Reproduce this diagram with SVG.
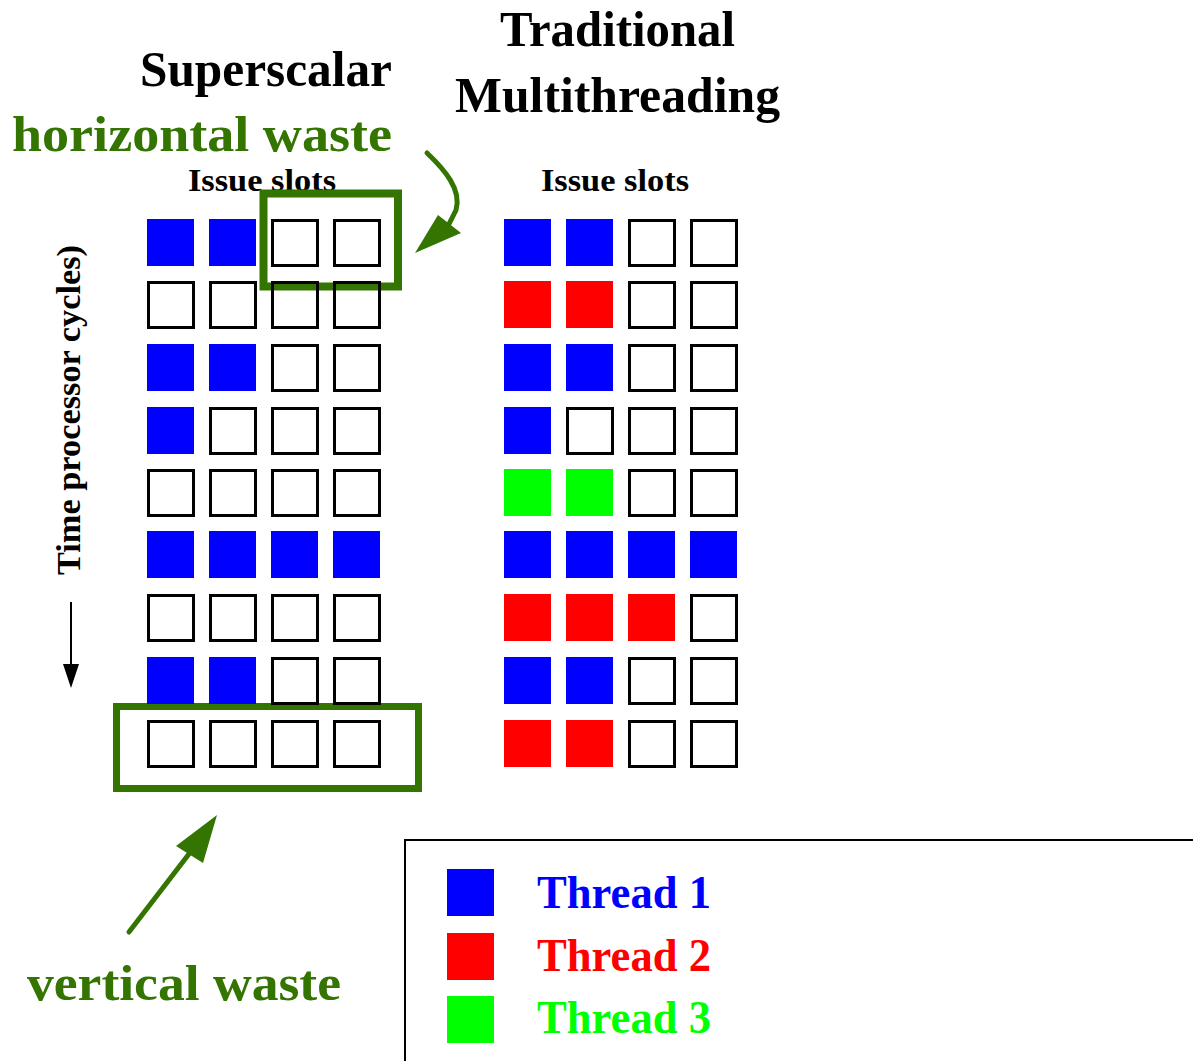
<svg xmlns="http://www.w3.org/2000/svg" width="1193" height="1061" viewBox="0 0 1193 1061">
<style>
.t{font-family:"Liberation Serif","Times New Roman",serif;font-weight:bold}
.e{fill:none;stroke:#000;stroke-width:3}
.b{fill:#0000ff}
.r{fill:#ff0000}
.g{fill:#00ff00}
.gw{fill:none;stroke:#347400}
.gt{fill:#347400}
</style>
<rect width="1193" height="1061" fill="#fff"/>
<g id="titles">
<text class="t" x="140" y="86" font-size="50" textLength="252" lengthAdjust="spacingAndGlyphs">Superscalar</text>
<text class="t" x="500" y="46" font-size="50" textLength="235" lengthAdjust="spacingAndGlyphs">Traditional</text>
<text class="t" x="455" y="112" font-size="50" textLength="325" lengthAdjust="spacingAndGlyphs">Multithreading</text>
<text class="t gt" x="12" y="151" font-size="50" textLength="380" lengthAdjust="spacingAndGlyphs">horizontal waste</text>
<text class="t" x="188" y="191" font-size="32" textLength="148" lengthAdjust="spacingAndGlyphs">Issue slots</text>
<text class="t" x="541" y="191" font-size="32" textLength="148" lengthAdjust="spacingAndGlyphs">Issue slots</text>
</g>
<g id="time-axis">
<text class="t" transform="translate(80,575) rotate(-90)" font-size="34" textLength="330" lengthAdjust="spacingAndGlyphs">Time processor cycles)</text>
<line x1="71" y1="602" x2="71" y2="665" stroke="#000" stroke-width="2"/>
<polygon points="63,664 79,664 71,688" fill="#000"/>
</g>
<g id="waste-boxes">
<rect id="hwaste-box" class="gw" x="263.5" y="193.5" width="134.5" height="93" stroke-width="8"/>
<rect id="vwaste-box" class="gw" x="116.5" y="706.5" width="302" height="82" stroke-width="7"/>
</g>
<g id="superscalar-grid">
<rect class="b" x="147" y="219" width="47" height="47"/><rect class="b" x="209" y="219" width="47" height="47"/><rect class="e" x="272.5" y="220.5" width="45" height="45"/><rect class="e" x="334.5" y="220.5" width="45" height="45"/>
<rect class="e" x="148.5" y="282.5" width="45" height="45"/><rect class="e" x="210.5" y="282.5" width="45" height="45"/><rect class="e" x="272.5" y="282.5" width="45" height="45"/><rect class="e" x="334.5" y="282.5" width="45" height="45"/>
<rect class="b" x="147" y="344" width="47" height="47"/><rect class="b" x="209" y="344" width="47" height="47"/><rect class="e" x="272.5" y="345.5" width="45" height="45"/><rect class="e" x="334.5" y="345.5" width="45" height="45"/>
<rect class="b" x="147" y="407" width="47" height="47"/><rect class="e" x="210.5" y="408.5" width="45" height="45"/><rect class="e" x="272.5" y="408.5" width="45" height="45"/><rect class="e" x="334.5" y="408.5" width="45" height="45"/>
<rect class="e" x="148.5" y="470.5" width="45" height="45"/><rect class="e" x="210.5" y="470.5" width="45" height="45"/><rect class="e" x="272.5" y="470.5" width="45" height="45"/><rect class="e" x="334.5" y="470.5" width="45" height="45"/>
<rect class="b" x="147" y="531" width="47" height="47"/><rect class="b" x="209" y="531" width="47" height="47"/><rect class="b" x="271" y="531" width="47" height="47"/><rect class="b" x="333" y="531" width="47" height="47"/>
<rect class="e" x="148.5" y="595.5" width="45" height="45"/><rect class="e" x="210.5" y="595.5" width="45" height="45"/><rect class="e" x="272.5" y="595.5" width="45" height="45"/><rect class="e" x="334.5" y="595.5" width="45" height="45"/>
<rect class="b" x="147" y="657" width="47" height="47"/><rect class="b" x="209" y="657" width="47" height="47"/><rect class="e" x="272.5" y="658.5" width="45" height="45"/><rect class="e" x="334.5" y="658.5" width="45" height="45"/>
<rect class="e" x="148.5" y="721.5" width="45" height="45"/><rect class="e" x="210.5" y="721.5" width="45" height="45"/><rect class="e" x="272.5" y="721.5" width="45" height="45"/><rect class="e" x="334.5" y="721.5" width="45" height="45"/>
</g>
<g id="multithreading-grid">
<rect class="b" x="504" y="219" width="47" height="47"/><rect class="b" x="566" y="219" width="47" height="47"/><rect class="e" x="629.5" y="220.5" width="45" height="45"/><rect class="e" x="691.5" y="220.5" width="45" height="45"/>
<rect class="r" x="504" y="281" width="47" height="47"/><rect class="r" x="566" y="281" width="47" height="47"/><rect class="e" x="629.5" y="282.5" width="45" height="45"/><rect class="e" x="691.5" y="282.5" width="45" height="45"/>
<rect class="b" x="504" y="344" width="47" height="47"/><rect class="b" x="566" y="344" width="47" height="47"/><rect class="e" x="629.5" y="345.5" width="45" height="45"/><rect class="e" x="691.5" y="345.5" width="45" height="45"/>
<rect class="b" x="504" y="407" width="47" height="47"/><rect class="e" x="567.5" y="408.5" width="45" height="45"/><rect class="e" x="629.5" y="408.5" width="45" height="45"/><rect class="e" x="691.5" y="408.5" width="45" height="45"/>
<rect class="g" x="504" y="469" width="47" height="47"/><rect class="g" x="566" y="469" width="47" height="47"/><rect class="e" x="629.5" y="470.5" width="45" height="45"/><rect class="e" x="691.5" y="470.5" width="45" height="45"/>
<rect class="b" x="504" y="531" width="47" height="47"/><rect class="b" x="566" y="531" width="47" height="47"/><rect class="b" x="628" y="531" width="47" height="47"/><rect class="b" x="690" y="531" width="47" height="47"/>
<rect class="r" x="504" y="594" width="47" height="47"/><rect class="r" x="566" y="594" width="47" height="47"/><rect class="r" x="628" y="594" width="47" height="47"/><rect class="e" x="691.5" y="595.5" width="45" height="45"/>
<rect class="b" x="504" y="657" width="47" height="47"/><rect class="b" x="566" y="657" width="47" height="47"/><rect class="e" x="629.5" y="658.5" width="45" height="45"/><rect class="e" x="691.5" y="658.5" width="45" height="45"/>
<rect class="r" x="504" y="720" width="47" height="47"/><rect class="r" x="566" y="720" width="47" height="47"/><rect class="e" x="629.5" y="721.5" width="45" height="45"/><rect class="e" x="691.5" y="721.5" width="45" height="45"/>
</g>
<g id="connectors">
<path d="M427,153 C445,170 462,190 456,210 L448,226" fill="none" stroke="#347400" stroke-width="5" stroke-linecap="round"/>
<polygon points="415,253 438,215 461,233" fill="#347400"/>
<line x1="129" y1="932" x2="192" y2="850" stroke="#347400" stroke-width="5" stroke-linecap="round"/>
<polygon points="217,815 176,846 203,863" fill="#347400"/>
</g>
<g id="vertical-waste-label">
<text class="t gt" x="27" y="1000" font-size="50" textLength="314" lengthAdjust="spacingAndGlyphs">vertical waste</text>
</g>
<g id="legend">
<rect x="405" y="840" width="800" height="240" fill="none" stroke="#000" stroke-width="2"/>
<rect class="b" x="447" y="869" width="47" height="47"/>
<rect class="r" x="447" y="933" width="47" height="47"/>
<rect class="g" x="447" y="996" width="47" height="47"/>
<text class="t" x="537" y="908" font-size="46" fill="#0000ff" textLength="174" lengthAdjust="spacingAndGlyphs">Thread 1</text>
<text class="t" x="537" y="971" font-size="46" fill="#ff0000" textLength="174" lengthAdjust="spacingAndGlyphs">Thread 2</text>
<text class="t" x="537" y="1033" font-size="46" fill="#00ff00" textLength="174" lengthAdjust="spacingAndGlyphs">Thread 3</text>
</g>
</svg>
